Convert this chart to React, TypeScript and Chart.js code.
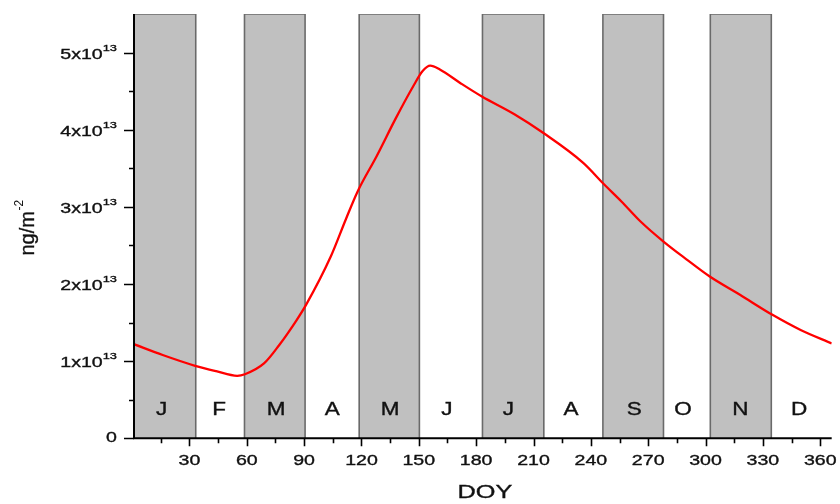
import { useEffect, useRef } from 'react';
import { Chart, registerables } from 'chart.js';

Chart.register(...registerables);

// ---- data (values in units of 1e13 ng/m^-2) ----
const doy = [1, 16, 33, 44, 55, 59, 69, 77, 86, 91, 104, 112, 118, 128, 138, 147, 152, 156, 161, 172, 183, 200, 215, 236, 247, 256, 266, 278, 290, 302, 318, 335, 350, 366];
const flux = [1.22, 1.08, 0.94, 0.87, 0.81, 0.83, 0.97, 1.21, 1.53, 1.73, 2.36, 2.85, 3.2, 3.66, 4.15, 4.56, 4.76, 4.83, 4.78, 4.6, 4.43, 4.2, 3.96, 3.57, 3.29, 3.07, 2.81, 2.55, 2.32, 2.1, 1.86, 1.6, 1.4, 1.23];
const unit = 1e13;

const barStart = [1, 58.8, 118.8, 183.3, 246.3, 302.5];
const barEnd = [33.3, 90.5, 150.3, 215.4, 278, 334.4];
const barTop = 5.5;

const monthLetters = ['J', 'F', 'M', 'A', 'M', 'J', 'J', 'A', 'S', 'O', 'N', 'D'];
const monthCenters = [15.5, 45.5, 75.4, 104.7, 135, 164.7, 196.8, 229.6, 262.7, 288.2, 318.2, 349];
const monthLabelLevel = 0.36;

const xMajorTicks = [30, 60, 90, 120, 150, 180, 210, 240, 270, 300, 330, 360];
const xMinorTicks = [15, 45, 75, 105, 135, 165, 195, 225, 255, 285, 315, 345];
const yMajorTicks = [0, 1, 2, 3, 4, 5];
const yMinorTicks = [0.5, 1.5, 2.5, 3.5, 4.5];
const yTickExp = '13';
const xTitle = 'DOY';
const yTitle = 'ng/m';
const yTitleSup = '-2';

const FONT = '"Liberation Sans", Arial, Helvetica, sans-serif';
const TEXT = '#111';

function stretchText(ctx: CanvasRenderingContext2D, text: string, x: number, y: number, size: number, sx: number, align: CanvasTextAlign) {
  ctx.save();
  ctx.font = `${size}px ${FONT}`;
  ctx.textAlign = align;
  ctx.textBaseline = 'middle';
  ctx.translate(x, y);
  ctx.scale(sx, 1);
  ctx.fillStyle = TEXT;
  ctx.strokeStyle = TEXT;
  ctx.lineWidth = 0.35;
  ctx.fillText(text, 0, 0);
  ctx.strokeText(text, 0, 0);
  ctx.restore();
}

function widthOf(ctx: CanvasRenderingContext2D, text: string, size: number, sx: number) {
  ctx.save();
  ctx.font = `${size}px ${FONT}`;
  const w = ctx.measureText(text).width * sx;
  ctx.restore();
  return w;
}

const decorPlugin = {
  id: 'decor',
  afterDatasetsDraw(chart: any) {
    const { ctx, chartArea } = chart;
    const x = chart.scales.x;
    const y = chart.scales.y;
    const { left, right, top, bottom } = chartArea;
    ctx.save();

    // month letters
    monthLetters.forEach((m, i) => {
      stretchText(ctx, m, x.getPixelForValue(monthCenters[i]), y.getPixelForValue(monthLabelLevel * unit), 18, 1.25, 'center');
    });

    // axis lines
    ctx.strokeStyle = '#000';
    ctx.lineWidth = 2;
    ctx.beginPath();
    ctx.moveTo(left, top);
    ctx.lineTo(left, bottom);
    ctx.lineTo(right, bottom);
    ctx.stroke();

    // ticks
    ctx.lineWidth = 1.6;
    ctx.beginPath();
    xMajorTicks.forEach((t) => {
      const px = Math.round(x.getPixelForValue(t)) + 0.5;
      ctx.moveTo(px, bottom);
      ctx.lineTo(px, bottom + 8);
    });
    xMinorTicks.forEach((t) => {
      const px = Math.round(x.getPixelForValue(t)) + 0.5;
      ctx.moveTo(px, bottom);
      ctx.lineTo(px, bottom + 5);
    });
    yMajorTicks.forEach((t) => {
      const py = Math.round(y.getPixelForValue(t * unit)) + 0.5;
      ctx.moveTo(left, py);
      ctx.lineTo(left - 10, py);
    });
    yMinorTicks.forEach((t) => {
      const py = Math.round(y.getPixelForValue(t * unit)) + 0.5;
      ctx.moveTo(left, py);
      ctx.lineTo(left - 5, py);
    });
    ctx.stroke();

    // x tick labels
    xMajorTicks.forEach((t) => {
      stretchText(ctx, String(t), x.getPixelForValue(t), bottom + 23, 14.5, 1.35, 'center');
    });

    // y tick labels
    const labelRight = left - 17;
    yMajorTicks.forEach((t) => {
      const py = y.getPixelForValue(t * unit);
      if (t === 0) {
        stretchText(ctx, '0', labelRight, py, 14.5, 1.35, 'right');
      } else {
        const supW = widthOf(ctx, yTickExp, 9.5, 1.35);
        stretchText(ctx, yTickExp, labelRight, py - 4.5, 9.5, 1.35, 'right');
        stretchText(ctx, `${t}x10`, labelRight - supW, py + 2, 14.5, 1.35, 'right');
      }
    });

    // x title
    stretchText(ctx, xTitle, (left + right) / 2 + 2, 493, 19, 1.33, 'center');

    // y title (rotated, with superscript)
    ctx.save();
    ctx.translate(33.5, 228);
    ctx.rotate(-Math.PI / 2);
    ctx.textBaseline = 'alphabetic';
    ctx.textAlign = 'left';
    ctx.fillStyle = TEXT;
    ctx.strokeStyle = TEXT;
    ctx.lineWidth = 0.35;
    ctx.font = `20px ${FONT}`;
    const wMain = ctx.measureText(yTitle).width;
    ctx.font = `12px ${FONT}`;
    const wSup = ctx.measureText(yTitleSup).width;
    const start = -(wMain + wSup) / 2;
    ctx.font = `20px ${FONT}`;
    ctx.fillText(yTitle, start, 0);
    ctx.strokeText(yTitle, start, 0);
    ctx.font = `12px ${FONT}`;
    ctx.fillText(yTitleSup, start + wMain + 0.5, -11);
    ctx.restore();

    ctx.restore();
  },
};

export default function App() {
  const ref = useRef<HTMLCanvasElement>(null);

  useEffect(() => {
    const lineDs: any = {
      type: 'line',
      data: doy.map((d, i) => ({ x: d, y: flux[i] * unit })),
      borderColor: '#ff0000',
      borderWidth: 2.3,
      pointRadius: 0,
      tension: 0.4,
      cubicInterpolationMode: 'monotone',
      fill: false,
      order: 0,
    };
    const barDs: any[] = barStart.map((s, i) => ({
      type: 'line',
      data: [
        { x: s, y: 0 },
        { x: s, y: barTop * unit },
        { x: barEnd[i], y: barTop * unit },
        { x: barEnd[i], y: 0 },
      ],
      borderColor: '#6a6a6a',
      borderWidth: 1.6,
      backgroundColor: '#c0c0c0',
      fill: 'origin',
      pointRadius: 0,
      tension: 0,
      order: 1,
    }));

    const chart = new Chart(ref.current as HTMLCanvasElement, {
      type: 'line',
      data: { datasets: [lineDs, ...barDs] },
      options: {
        responsive: false,
        animation: false,
        devicePixelRatio: 1,
        events: [],
        layout: { padding: { left: 134, right: 8.3, top: 14, bottom: 65.7 } },
        scales: {
          x: { type: 'linear', min: 1, max: 366, display: false },
          y: { type: 'linear', min: 0, max: barTop * unit, display: false },
        },
        plugins: {
          legend: { display: false },
          tooltip: { enabled: false },
        },
      } as any,
      plugins: [decorPlugin],
    });
    return () => chart.destroy();
  }, []);

  return (
    <div style={{ position: 'fixed', left: 0, top: 0, width: 840, height: 504, background: '#fff' }}>
      <canvas ref={ref} width={840} height={504} style={{ display: 'block', width: 840, height: 504 }} />
    </div>
  );
}
